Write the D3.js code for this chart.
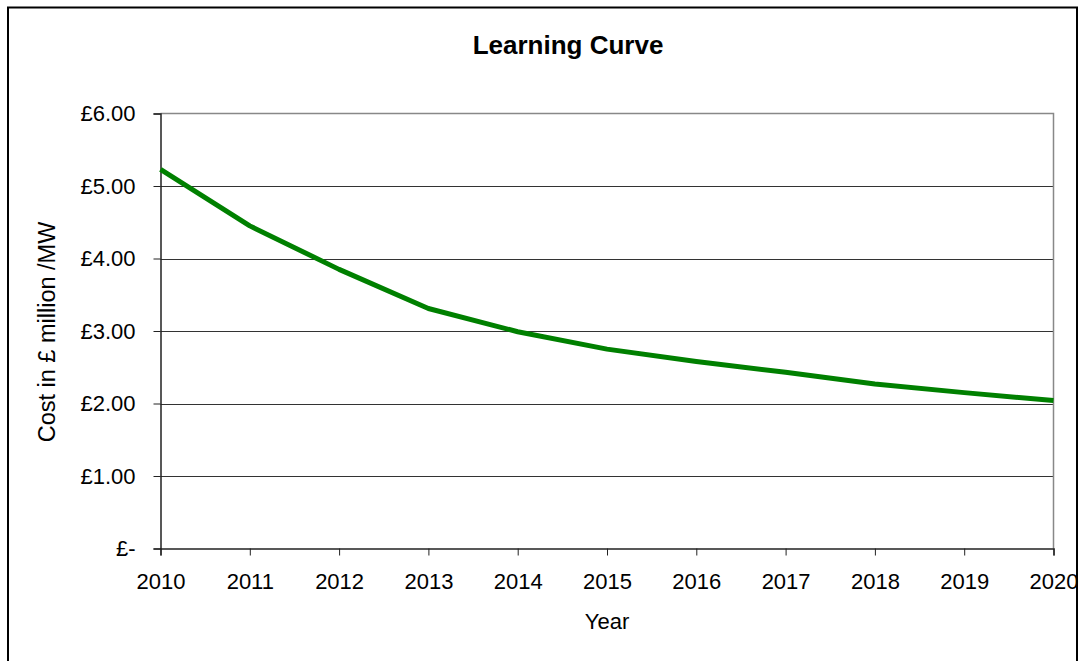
<!DOCTYPE html>
<html>
<head>
<meta charset="utf-8">
<script src="https://cdn.jsdelivr.net/npm/d3@7"></script>
<style>
  html, body { margin: 0; padding: 0; background: #fff; }
  svg { display: block; }
  text { font-family: "Liberation Sans", Arial, sans-serif; fill: #000; }
</style>
</head>
<body>
<svg id="chart" width="1086" height="661"></svg>
<script>
// Projected cost per MW, one value per year
const years = [2010, 2011, 2012, 2013, 2014, 2015, 2016, 2017, 2018, 2019, 2020];
const costs = [5.23, 4.45, 3.85, 3.31, 2.99, 2.75, 2.58, 2.43, 2.27, 2.15, 2.04];
const yTicks = [0, 1, 2, 3, 4, 5, 6];
const chartTitle = "Learning Curve";
const xTitle = "Year";
const yTitle = "Cost in £ million /MW";

const svg = d3.select("#chart");

// outer chart frame
svg.append("rect")
  .attr("x", 8).attr("y", 7.5)
  .attr("width", 1069).attr("height", 670)
  .attr("fill", "#fff").attr("stroke", "#000").attr("stroke-width", 2);

const plot = { left: 160.5, right: 1053.5, top: 113.5, bottom: 548.5 };

const x = d3.scaleLinear().domain([2010, 2020]).range([plot.left, plot.right]);
const y = d3.scaleLinear().domain([0, 6]).range([plot.bottom, plot.top]);

const fmt = v => v === 0 ? "£-" : "£" + v.toFixed(2);

// horizontal gridlines
svg.append("g")
  .selectAll("line")
  .data(yTicks.filter(v => v > 0 && v < 6))
  .join("line")
  .attr("x1", plot.left).attr("x2", plot.right)
  .attr("y1", d => Math.round(y(d)) + 0.5).attr("y2", d => Math.round(y(d)) + 0.5)
  .attr("stroke", "#333").attr("stroke-width", 1);

// plot area border (top and right)
svg.append("path")
  .attr("d", `M${plot.left},${plot.top}H${plot.right}V${plot.bottom}`)
  .attr("fill", "none").attr("stroke", "#888").attr("stroke-width", 1.5);

// y axis
const yAxis = svg.append("g")
  .attr("transform", `translate(${plot.left},0)`)
  .call(d3.axisLeft(y).tickValues(yTicks).tickFormat(fmt).tickSize(7).tickPadding(18));
// x axis
const xAxis = svg.append("g")
  .attr("transform", `translate(0,${plot.bottom})`)
  .call(d3.axisBottom(x).tickValues(years).tickFormat(d3.format("d")).tickSize(7).tickPadding(18));

[yAxis, xAxis].forEach(g => {
  g.select(".domain").attr("stroke", "#222").attr("stroke-width", 1.5);
  g.selectAll(".tick line").attr("stroke", "#222");
  g.selectAll("text")
    .attr("font-family", "'Liberation Sans', Arial, sans-serif")
    .attr("font-size", 22).attr("fill", "#000");
});

// cost line
svg.append("path")
  .datum(years.map((yr, i) => [yr, costs[i]]))
  .attr("fill", "none")
  .attr("stroke", "#008000")
  .attr("stroke-width", 5)
  .attr("stroke-linejoin", "round")
  .attr("d", d3.line().x(d => x(d[0])).y(d => y(d[1])));

// titles
svg.append("text")
  .attr("x", 568).attr("y", 54)
  .attr("text-anchor", "middle")
  .attr("font-size", 26).attr("font-weight", "bold")
  .text(chartTitle);

svg.append("text")
  .attr("x", 607).attr("y", 629)
  .attr("text-anchor", "middle")
  .attr("font-size", 22)
  .text(xTitle);

svg.append("text")
  .attr("transform", "translate(55,332) rotate(-90)")
  .attr("text-anchor", "middle")
  .attr("font-size", 23.5)
  .text(yTitle);
</script>
</body>
</html>
